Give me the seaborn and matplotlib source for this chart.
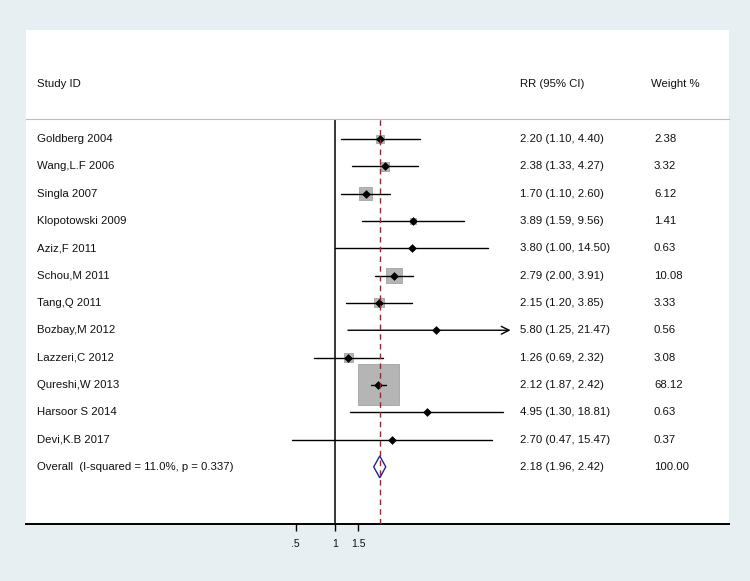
import numpy as np
import pandas as pd
import matplotlib
matplotlib.use("Agg")
import matplotlib.pyplot as plt
from matplotlib.patches import Rectangle, Polygon
import seaborn as sns

# study data
studies = ["Goldberg 2004", "Wang,L.F 2006", "Singla 2007", "Klopotowski 2009",
           "Aziz,F 2011", "Schou,M 2011", "Tang,Q 2011", "Bozbay,M 2012",
           "Lazzeri,C 2012", "Qureshi,W 2013", "Harsoor S 2014", "Devi,K.B 2017"]
rr = [2.20, 2.38, 1.70, 3.89, 3.80, 2.79, 2.15, 5.80, 1.26, 2.12, 4.95, 2.70]
ci_lo = [1.10, 1.33, 1.10, 1.59, 1.00, 2.00, 1.20, 1.25, 0.69, 1.87, 1.30, 0.47]
ci_hi = [4.40, 4.27, 2.60, 9.56, 14.50, 3.91, 3.85, 21.47, 2.32, 2.42, 18.81, 15.47]
weights = [2.38, 3.32, 6.12, 1.41, 0.63, 10.08, 3.33, 0.56, 3.08, 68.12, 0.63, 0.37]

overall_label = "Overall  (I-squared = 11.0%, p = 0.337)"
overall_rr, overall_lo, overall_hi = 2.18, 1.96, 2.42
overall_weight = 100.00

tick_vals = [0.5, 1, 1.5]
tick_labels = [".5", "1", "1.5"]

df = pd.DataFrame({"study": studies, "rr": rr, "lo": ci_lo, "hi": ci_hi, "weight": weights})
df["row"] = np.arange(len(df))
overall_row = len(df)

sns.set_theme(style="white")
plt.rcParams["font.family"] = ["Liberation Sans", "DejaVu Sans"]

W, H = 750, 581
bg = "#e7eff2"
fig = plt.figure(figsize=(W / 100, H / 100), dpi=100)
fig.patch.set_facecolor(bg)

# white panel
fig.add_artist(Rectangle((26 / W, 1 - 524 / H), 703 / W, 494 / H,
                         transform=fig.transFigure, facecolor="white",
                         edgecolor="none", zorder=0))

ax = fig.add_axes([26 / W, 1 - 524 / H, 703 / W, (524 - 119) / H])
ax.set_facecolor("none")
ax.set_xscale("log")
px_per_ln = 57.2
x1_px = 335.2
ax.set_xlim(np.exp((26 - x1_px) / px_per_ln), np.exp((729 - x1_px) / px_per_ln))
ax.set_ylim(14.09, -0.73)

# weight squares (area proportional to weight)
wmin, wmax = df["weight"].min(), df["weight"].max()
k = 12.8
sns.scatterplot(data=df, x="rr", y="row", size="weight", sizes=(k * wmin, k * wmax),
                size_norm=(wmin, wmax), marker="s", color="#b5b5b5",
                edgecolor="#a3a3a3", linewidth=0.6, legend=False, ax=ax, zorder=2)

# confidence intervals
clip_hi = 20
for _, r in df.iterrows():
    if r["hi"] > clip_hi:
        ax.annotate("", xy=(r["hi"], r["row"]), xytext=(r["lo"], r["row"]),
                    arrowprops=dict(arrowstyle="->", lw=1.0, color="black",
                                    shrinkA=0, shrinkB=0, mutation_scale=14), zorder=3)
    else:
        ax.plot([r["lo"], r["hi"]], [r["row"], r["row"]], color="black", lw=1.0, zorder=3)

# point estimates
sns.scatterplot(data=df, x="rr", y="row", marker="D", s=20, color="black",
                edgecolor="black", linewidth=0, legend=False, ax=ax, zorder=4)

# reference lines
ax.axvline(1, color="black", lw=1.1, zorder=1)

# overall diamond
dh = 0.4
ax.add_patch(Polygon([(overall_lo, overall_row), (overall_rr, overall_row - dh),
                      (overall_hi, overall_row), (overall_rr, overall_row + dh)],
                     closed=True, facecolor="white", edgecolor="#24248a", lw=1.0, zorder=3))
ax.axvline(overall_rr, color="#8e2a3a", lw=1.0, ls=(0, (4, 3)), zorder=4)

# axes styling
for s in ["left", "right"]:
    ax.spines[s].set_visible(False)
ax.spines["top"].set_color("#bdbdbd")
ax.spines["top"].set_linewidth(0.8)
ax.spines["bottom"].set_color("black")
ax.spines["bottom"].set_linewidth(1.4)
ax.set_yticks([])
ax.set_xticks(tick_vals)
ax.set_xticklabels(tick_labels)
ax.xaxis.set_minor_locator(matplotlib.ticker.NullLocator())
ax.tick_params(axis="x", direction="out", length=5, width=1, color="black",
               labelsize=7.5, pad=6, bottom=True, labelcolor="#111111")
ax.set_xlabel("")
ax.set_ylabel("")

# text columns
trans = matplotlib.transforms.blended_transform_factory(ax.transAxes, ax.transData)
fs = 8.2
tc = "#111111"
x_name = (37 - 26) / 703
x_rr = (520 - 26) / 703
x_w = (654 - 26) / 703
for _, r in df.iterrows():
    ax.text(x_name, r["row"], r["study"], transform=trans, fontsize=fs, va="center",
            ha="left", color=tc)
    ax.text(x_rr, r["row"], f"{r['rr']:.2f} ({r['lo']:.2f}, {r['hi']:.2f})",
            transform=trans, fontsize=fs, va="center", ha="left", color=tc)
    ax.text(x_w, r["row"], f"{r['weight']:.2f}", transform=trans, fontsize=fs,
            va="center", ha="left", color=tc)
ax.text(x_name, overall_row, overall_label, transform=trans, fontsize=fs, va="center", color=tc)
ax.text(x_rr, overall_row, f"{overall_rr:.2f} ({overall_lo:.2f}, {overall_hi:.2f})",
        transform=trans, fontsize=fs, va="center", color=tc)
ax.text(x_w, overall_row, f"{overall_weight:.2f}", transform=trans, fontsize=fs,
        va="center", color=tc)

# header
fig.text(37 / W, 1 - 84 / H, "Study ID", fontsize=fs, va="center", ha="left", color=tc)
fig.text(520 / W, 1 - 84 / H, "RR (95% CI)", fontsize=fs, va="center", ha="left", color=tc)
fig.text(651 / W, 1 - 84 / H, "Weight %", fontsize=fs, va="center", ha="left", color=tc)

fig.savefig("out.png", dpi=100, facecolor=bg)
